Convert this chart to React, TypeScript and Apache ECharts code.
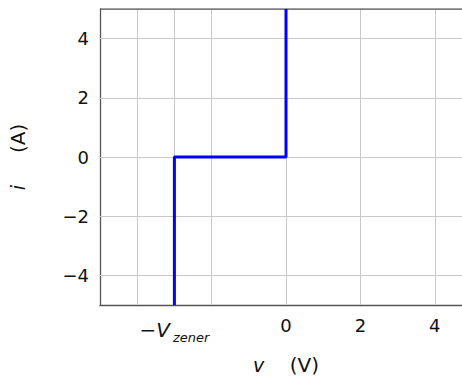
import React, { useEffect, useRef } from "react";
import * as echarts from "echarts";

const curveV = [-3, -3, 0, 0];
const curveI = [-5, 0, 0, 5];
const xTicks = [-4, -3, -2, 0, 2, 4];
const xLabels: Record<string, string> = { "-3": "{m|−}{v|V}{s|zener}", "0": "0", "2": "2", "4": "4" };
const yTicks = [-4, -2, 0, 2, 4];
const xRange = [-5, 5];
const yRange = [-5, 5];

export default function App() {
  const ref = useRef<HTMLDivElement>(null);
  useEffect(() => {
    const chart = echarts.init(ref.current!, null, { renderer: "svg" });
    const font = "DejaVu Sans";
    const ink = "#111";
    const gridStyle = { color: "#c8c8c8", width: 1, type: "solid" as const };
    chart.setOption({
      animation: false,
      grid: { left: 100, right: 0, top: 9, bottom: 78, containLabel: false },
      xAxis: {
        type: "value",
        min: xRange[0],
        max: xRange[1],
        name: "{i|v}    (V)",
        nameLocation: "middle",
        nameGap: 50,
        nameTextStyle: {
          fontFamily: font,
          fontSize: 20,
          color: ink,
          rich: { i: { fontFamily: font, fontSize: 19, fontStyle: "italic", color: ink } },
        },
        axisLine: { show: true, onZero: false, lineStyle: { color: "#555", width: 1.3 } },
        axisTick: { show: true, inside: true, length: 8, customValues: xTicks, lineStyle: { color: "#555" } },
        axisLabel: {
          customValues: xTicks,
          margin: 11,
          fontFamily: font,
          fontSize: 18,
          color: ink,
          formatter: (v: number) => xLabels[String(v)] ?? "",
          rich: {
            m: { fontFamily: font, fontSize: 20, color: ink },
            v: { fontFamily: font, fontSize: 20, fontStyle: "italic", color: ink },
            s: { fontFamily: font, fontSize: 13, fontStyle: "italic", color: ink, padding: [15, 0, 0, 3] },
          },
        },
        splitLine: { show: false },
      },
      yAxis: {
        type: "value",
        min: yRange[0],
        max: yRange[1],
        name: "{i|i}     (A)",
        nameLocation: "middle",
        nameGap: 72,
        nameRotate: 90,
        nameTextStyle: {
          fontFamily: font,
          fontSize: 20,
          color: ink,
          rich: { i: { fontFamily: font, fontSize: 19, fontStyle: "italic", color: ink } },
        },
        axisLine: { show: true, onZero: false, lineStyle: { color: "#555", width: 1.3 } },
        axisTick: { show: true, inside: true, length: 8, customValues: yTicks, lineStyle: { color: "#555" } },
        axisLabel: {
          customValues: yTicks,
          margin: 11,
          fontFamily: font,
          fontSize: 18,
          color: ink,
          formatter: (v: number) => (v < 0 ? "−" + Math.abs(v) : String(v)),
        },
        splitLine: { show: false },
      },
      series: [
        {
          type: "line",
          data: [],
          silent: true,
          z: 1,
          markLine: {
            silent: true,
            z: 1,
            symbol: ["none", "none"],
            label: { show: false },
            lineStyle: gridStyle,
            emphasis: { disabled: true },
            data: [
              ...xTicks.map((x) => ({ xAxis: x })),
              ...yTicks.map((y) => ({ yAxis: y })),
            ],
          },
        },
        {
          type: "line",
          data: [
            [xRange[0], yRange[1]],
            [xRange[1], yRange[1]],
          ],
          symbol: "none",
          silent: true,
          z: 5,
          lineStyle: { color: "#555", width: 1.3 },
        },
        {
          type: "line",
          data: curveV.map((v, k) => [v, curveI[k]]),
          symbol: "none",
          silent: true,
          z: 10,
          color: "#0000ff",
          lineStyle: { color: "#0000ff", width: 3 },
        },
      ],
    });
    return () => chart.dispose();
  }, []);
  return (
    <div style={{ position: "absolute", left: 0, top: 0, width: 462, height: 383, overflow: "hidden" }}>
      <div ref={ref} style={{ width: 472, height: 383 }} />
    </div>
  );
}
